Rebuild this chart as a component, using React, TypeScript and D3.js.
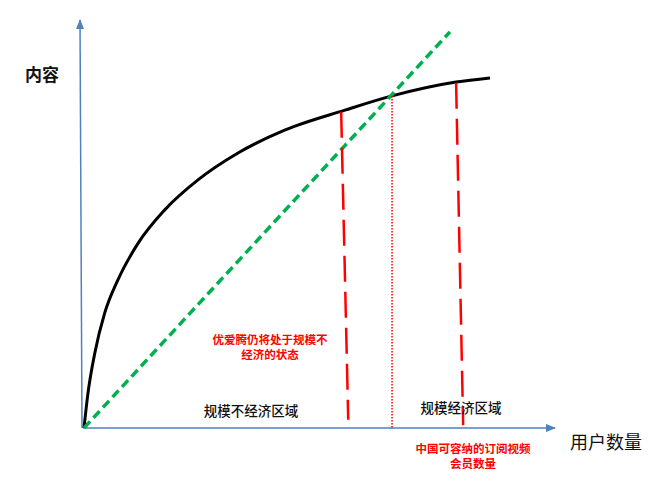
import { useEffect, useRef } from 'react';
import * as d3 from 'd3';

// 0..100 abstract units for both axes
const curveX = [0, 0.85, 2.3, 4.4, 7.2, 11.5, 17.1, 24.2, 32.7, 42.6, 55.4, 65.4, 79.0, 86.2];
const curveY = [0, 8.6, 18.4, 28.2, 36.3, 45.3, 53.4, 60.8, 67.4, 73.0, 77.9, 81.4, 84.8, 85.8];

const diagonalX = [0, 77.7];
const diagonalY = [0, 97.1];

const leftCutX = [54.6, 56.1];
const leftCutY = [77.5, 2.0];
const rightCutX = [79.0, 80.5];
const rightCutY = [84.6, 0.7];
const crossX = [65.4, 65.4];
const crossY = [81.4, 0];

const yLabel = '内容';
const xLabel = '用户数量';
const zoneLabels = ['规模不经济区域', '规模经济区域'];
const noteLeft = ['优爱腾仍将处于规模不', '经济的状态'];
const noteRight = ['中国可容纳的订阅视频', '会员数量'];

export default function App() {
	const svgRef = useRef<SVGSVGElement | null>(null);

	useEffect(() => {
		if (!svgRef.current) return;
		const width = 662;
		const height = 484;
		const svg = d3.select(svgRef.current).attr('width', width).attr('height', height);
		svg.selectAll('*').remove();

		const x = d3.scaleLinear().domain([0, 100]).range([84, 555]);
		const y = d3.scaleLinear().domain([0, 100]).range([428, 20]);
		const font = '"Noto Sans CJK SC", sans-serif';
		const axisColor = '#4f81bd';

		// arrow head
		svg
			.append('defs')
			.append('marker')
			.attr('id', 'arrow')
			.attr('viewBox', '0 0 10 10')
			.attr('refX', 9)
			.attr('refY', 5)
			.attr('markerWidth', 7)
			.attr('markerHeight', 7)
			.attr('orient', 'auto')
			.append('path')
			.attr('d', 'M0,1 L10,5 L0,9 Z')
			.attr('fill', axisColor);

		// axes
		svg
			.append('line')
			.attr('x1', x(0) - 1)
			.attr('y1', y(0))
			.attr('x2', x(100))
			.attr('y2', y(0))
			.attr('stroke', axisColor)
			.attr('stroke-width', 1.5)
			.attr('marker-end', 'url(#arrow)');
		svg
			.append('line')
			.attr('x1', x(0) - 2)
			.attr('y1', y(0))
			.attr('x2', x(0) - 4)
			.attr('y2', y(100))
			.attr('stroke', axisColor)
			.attr('stroke-width', 1.5)
			.attr('marker-end', 'url(#arrow)');

		const pts = (xs: number[], ys: number[]) => xs.map((v, i) => [v, ys[i]] as [number, number]);
		const line = d3
			.line<[number, number]>()
			.x((d) => x(d[0]))
			.y((d) => y(d[1]));

		// curve
		svg
			.append('path')
			.attr('d', line.curve(d3.curveMonotoneX)(pts(curveX, curveY)))
			.attr('fill', 'none')
			.attr('stroke', '#000')
			.attr('stroke-width', 3);
		line.curve(d3.curveLinear);

		// diagonal
		svg
			.append('path')
			.attr('d', line(pts(diagonalX, diagonalY)))
			.attr('fill', 'none')
			.attr('stroke', '#00b050')
			.attr('stroke-width', 3.5)
			.attr('stroke-dasharray', '9,5');

		// red cuts
		[pts(leftCutX, leftCutY), pts(rightCutX, rightCutY)].forEach((p) => {
			svg
				.append('path')
				.attr('d', line(p))
				.attr('fill', 'none')
				.attr('stroke', '#ff0000')
				.attr('stroke-width', 2.5)
				.attr('stroke-dasharray', '26,10');
		});
		svg
			.append('path')
			.attr('d', line(pts(crossX, crossY)))
			.attr('fill', 'none')
			.attr('stroke', '#ff0000')
			.attr('stroke-width', 1.5)
			.attr('stroke-dasharray', '1.5,1.5');

		// labels
		svg
			.append('text')
			.attr('x', 42)
			.attr('y', 75)
			.attr('dy', '0.35em')
			.attr('text-anchor', 'middle')
			.style('font-family', font)
			.style('font-size', '17px')
			.style('font-weight', 'bold')
			.attr('fill', '#111')
			.text(yLabel);
		svg
			.append('text')
			.attr('x', 606)
			.attr('y', 443)
			.attr('dy', '0.35em')
			.attr('text-anchor', 'middle')
			.style('font-family', font)
			.style('font-size', '18px')
			.attr('fill', '#111')
			.text(xLabel);

		const zonePos = [
			[251, 411],
			[461, 408],
		];
		zoneLabels.forEach((t, i) => {
			svg
				.append('text')
				.attr('x', zonePos[i][0])
				.attr('y', zonePos[i][1])
				.attr('dy', '0.35em')
				.attr('text-anchor', 'middle')
				.style('font-family', font)
				.style('font-size', '13.5px')
				.style('font-weight', 500)
				.attr('fill', '#111')
				.text(t);
		});

		const note = (lines: string[], cx: number, cy: number) => {
			lines.forEach((t, i) => {
				svg
					.append('text')
					.attr('x', cx)
					.attr('y', cy + i * 15)
					.attr('dy', '0.35em')
					.attr('text-anchor', 'middle')
					.style('font-family', font)
					.style('font-size', '11.5px')
					.style('font-weight', 'bold')
					.attr('fill', '#ff0000')
					.text(t);
			});
		};
		note(noteLeft, 270, 340);
		note(noteRight, 473, 449);
	}, []);

	return <svg ref={svgRef} style={{ position: 'absolute', left: 0, top: 0 }} />;
}
